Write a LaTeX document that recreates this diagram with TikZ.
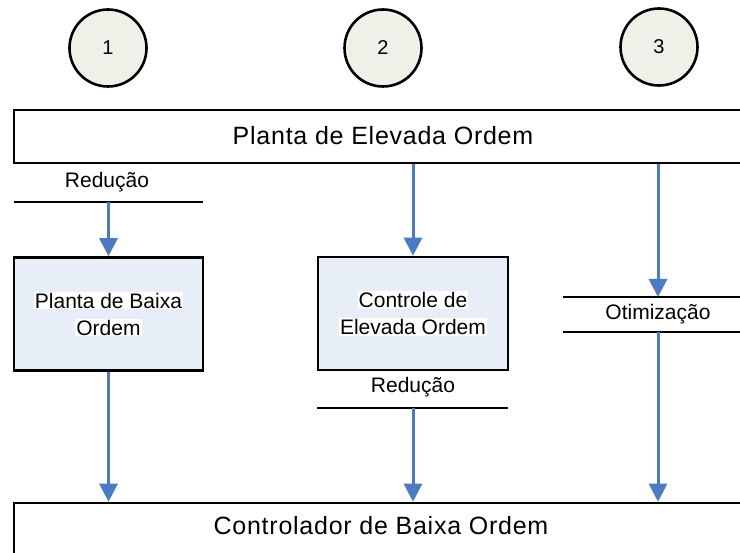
\documentclass[tikz,border=0pt]{standalone}
\usepackage{fontspec}
\setmainfont{Liberation Sans}
\usetikzlibrary{arrows.meta}
\definecolor{arrblue}{HTML}{4A7BC4}
\definecolor{circfill}{HTML}{F0F0E8}
\definecolor{boxfill}{HTML}{E8EEF8}
\setlength{\fboxsep}{1pt}
\begin{document}
\begin{tikzpicture}[x=1pt,y=-1pt,
  bar/.style={draw=black,line width=2.6pt,fill=white,inner sep=0pt},
  numcirc/.style={circle,draw=black,line width=2.6pt,fill=circfill,minimum size=77pt,inner sep=0pt,font=\fontsize{20}{24}\selectfont},
  blockbox/.style={draw=black,line width=2.6pt,fill=boxfill,minimum height=113pt,inner sep=0pt,align=center,font=\fontsize{21}{27}\selectfont},
  lbl/.style={inner sep=0pt,font=\fontsize{21}{25}\selectfont},
  barlbl/.style={inner sep=0pt,font=\fontsize{25}{30}\selectfont\addfontfeatures{LetterSpace=3}},
  hline/.style={draw=black,line width=2.6pt},
  arr/.style={draw=arrblue,line width=3pt,-{Triangle[width=18pt,length=18pt]}}]
\useasboundingbox (0,0) rectangle (740,553);
\clip (0,0) rectangle (740,553);
% circles
\node[numcirc] (c1) at (108,48) {1};
\node[numcirc] (c2) at (383,48) {2};
\node[numcirc] (c3) at (659,47) {3};
% top bar
\node[bar,minimum width=746pt,minimum height=53pt] (top) at (387,136.5) {};
\node[barlbl] (toplbl) at (383,136) {Planta de Elevada Ordem};
% bottom bar
\node[bar,minimum width=746pt,minimum height=54pt] (bot) at (387,530) {};
\node[barlbl] (botlbl) at (381,526) {Controlador de Baixa Ordem};
% column 1
\node[lbl] (red1) at (107,182) {Redução};
\coordinate (r1a) at (14,202);
\coordinate (r1b) at (203,202);
\draw[hline] (r1a) -- (r1b);
\node[blockbox,minimum width=189pt] (b1) at (108.5,314) {\colorbox{white}{Planta de Baixa}\\\colorbox{white}{Ordem}};
\coordinate (r1m) at (108.5,202);
\draw[arr] (r1m) -- (b1.north);
\draw[arr] (b1.south) -- (b1.south |- bot.north);
% column 2
\node[blockbox,minimum width=190pt] (b2) at (413,313.5) {\colorbox{white}{Controle de}\\\colorbox{white}{Elevada Ordem}};
\draw[arr] (top.south -| b2.north) -- (b2.north);
\node[lbl] (red2) at (413,387) {Redução};
\coordinate (r2a) at (317,408);
\coordinate (r2b) at (508,408);
\coordinate (r2m) at (413,408);
\draw[hline] (r2a) -- (r2b);
\draw[arr] (r2m) -- (r2m |- bot.north);
% column 3
\coordinate (o1a) at (563,297);
\coordinate (o1b) at (745,297);
\coordinate (o2a) at (563,332);
\coordinate (o2b) at (745,332);
\coordinate (o1m) at (658,297);
\coordinate (o2m) at (658,332);
\draw[hline] (o1a) -- (o1b);
\draw[hline] (o2a) -- (o2b);
\node[lbl] (otim) at (658,314) {Otimização};
\draw[arr] (top.south -| o1m) -- (o1m);
\draw[arr] (o2m) -- (o2m |- bot.north);
\end{tikzpicture}
\end{document}
